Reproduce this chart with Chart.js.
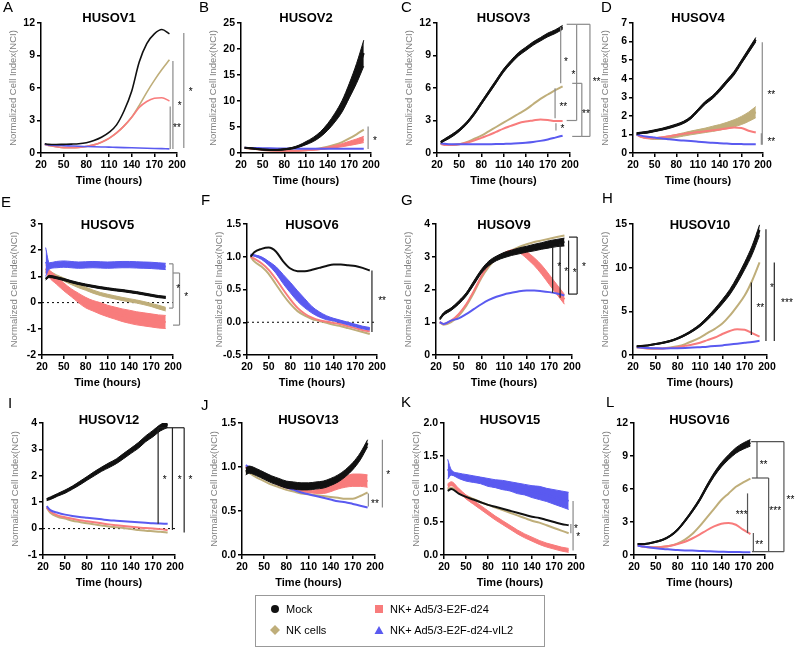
<!DOCTYPE html>
<html>
<head>
<meta charset="utf-8">
<script src="https://cdn.jsdelivr.net/npm/chart.js@4.4.1/dist/chart.umd.min.js"></script>
<style>
  body { margin: 0; background: #fff; font-family: Arial, "Liberation Sans", sans-serif; }
  #page { position: relative; width: 800px; height: 651px; overflow: hidden; }
  canvas { position: absolute; }
  .letter { position: absolute; font-size: 15px; line-height: 18px; color: #000; }
  #legend { position: absolute; left: 255px; top: 595px; width: 290px; height: 52px; border: 1px solid #999; box-sizing: border-box; font-size: 11px; }
  .item { position: absolute; display: flex; align-items: center; white-space: nowrap; }
  .item svg { margin-right: 6px; }
</style>
</head>
<body>
<div id="page"></div>
<script>
// time axis shared by all panels (hours)
const hours = [25, 30, 40, 50, 60, 70, 80, 90, 100, 110, 120, 130, 140, 150, 160, 170, 180, 190];

// HUSOV1
const husov1Mock = [0.85, 0.8, 0.78, 0.8, 0.82, 0.85, 0.95, 1.15, 1.45, 1.9, 2.6, 3.9, 5.7, 8.4, 10.1, 11.0, 11.4, 11.0];
const husov1Nk   = [0.8, 0.7, 0.58, 0.5, 0.5, 0.52, 0.6, 0.75, 1.0, 1.35, 1.85, 2.5, 3.3, 4.4, 5.6, 6.7, 7.7, 8.6];
const husov1Ad   = [0.8, 0.7, 0.58, 0.5, 0.5, 0.52, 0.6, 0.75, 1.0, 1.35, 1.85, 2.5, 3.3, 4.2, 4.75, 5.05, 5.1, 4.8];
const husov1Vil2 = [0.8, 0.75, 0.7, 0.68, 0.65, 0.62, 0.6, 0.58, 0.56, 0.54, 0.52, 0.5, 0.48, 0.46, 0.44, 0.42, 0.4, 0.38];

// HUSOV2
const husov2Mock   = [1.0, 0.95, 0.8, 0.65, 0.6, 0.6, 0.7, 0.9, 1.3, 1.9, 2.6, 3.6, 5.0, 6.8, 9.0, 12.0, 15.3, 19.2];
const husov2MockSd = [0.1, 0.1, 0.1, 0.1, 0.1, 0.1, 0.1, 0.15, 0.2, 0.3, 0.4, 0.5, 0.65, 0.85, 1.1, 1.4, 1.9, 2.5];
const husov2Nk     = [1.0, 0.9, 0.75, 0.6, 0.5, 0.45, 0.42, 0.42, 0.45, 0.55, 0.7, 0.9, 1.2, 1.6, 2.1, 2.8, 3.6, 4.5];
const husov2Ad     = [1.0, 0.9, 0.75, 0.6, 0.5, 0.45, 0.42, 0.42, 0.45, 0.52, 0.62, 0.78, 0.98, 1.22, 1.5, 1.85, 2.2, 2.6];
const husov2AdSd   = [0, 0, 0, 0, 0, 0, 0, 0, 0.02, 0.05, 0.08, 0.12, 0.17, 0.22, 0.3, 0.4, 0.5, 0.6];
const husov2Vil2   = [1.0, 0.98, 0.95, 0.92, 0.9, 0.88, 0.86, 0.85, 0.84, 0.83, 0.82, 0.81, 0.8, 0.8, 0.8, 0.8, 0.8, 0.8];

// HUSOV3
const husov3Mock   = [1.0, 1.2, 1.6, 2.1, 2.75, 3.6, 4.6, 5.6, 6.6, 7.6, 8.4, 9.1, 9.6, 10.1, 10.5, 10.9, 11.2, 11.6];
const husov3MockSd = [0.08, 0.1, 0.12, 0.12, 0.12, 0.14, 0.14, 0.15, 0.15, 0.15, 0.15, 0.16, 0.16, 0.16, 0.16, 0.17, 0.17, 0.18];
const husov3Nk     = [0.9, 0.8, 0.75, 0.8, 1.0, 1.3, 1.6, 2.0, 2.4, 2.8, 3.2, 3.6, 4.0, 4.5, 5.0, 5.4, 5.8, 6.15];
const husov3Ad     = [0.85, 0.75, 0.75, 0.8, 0.95, 1.15, 1.4, 1.65, 1.95, 2.25, 2.5, 2.75, 2.9, 3.0, 3.1, 3.05, 2.95, 2.95];
const husov3Vil2   = [0.9, 0.85, 0.8, 0.8, 0.8, 0.8, 0.8, 0.81, 0.82, 0.84, 0.86, 0.9, 0.95, 1.02, 1.12, 1.25, 1.42, 1.6];

// HUSOV4
const husov4Mock   = [1.05, 1.08, 1.12, 1.2, 1.28, 1.38, 1.5, 1.65, 1.9, 2.3, 2.7, 3.0, 3.4, 3.85, 4.3, 4.9, 5.5, 6.1];
const husov4MockSd = [0.04, 0.04, 0.05, 0.05, 0.05, 0.06, 0.06, 0.06, 0.07, 0.07, 0.08, 0.08, 0.09, 0.09, 0.1, 0.1, 0.11, 0.12];
const husov4Nk     = [1.0, 0.9, 0.82, 0.78, 0.8, 0.85, 0.92, 1.0, 1.08, 1.15, 1.22, 1.3, 1.38, 1.48, 1.6, 1.75, 1.95, 2.2];
const husov4NkSd   = [0.02, 0.03, 0.04, 0.05, 0.06, 0.07, 0.08, 0.09, 0.1, 0.11, 0.12, 0.14, 0.15, 0.17, 0.19, 0.22, 0.25, 0.3];
const husov4Ad     = [1.0, 0.88, 0.8, 0.8, 0.85, 0.9, 0.97, 1.03, 1.08, 1.13, 1.17, 1.22, 1.27, 1.32, 1.37, 1.35, 1.2, 1.1];
const husov4Vil2   = [1.0, 0.95, 0.88, 0.83, 0.78, 0.74, 0.7, 0.67, 0.64, 0.61, 0.58, 0.55, 0.53, 0.51, 0.49, 0.48, 0.47, 0.47];

// HUSOV5
const husov5Mock   = [0.9, 1.0, 0.95, 0.88, 0.8, 0.73, 0.67, 0.62, 0.57, 0.53, 0.49, 0.46, 0.42, 0.38, 0.33, 0.28, 0.23, 0.2];
const husov5MockSd = [0.04, 0.04, 0.04, 0.04, 0.04, 0.04, 0.04, 0.04, 0.04, 0.04, 0.04, 0.04, 0.04, 0.04, 0.04, 0.04, 0.04, 0.04];
const husov5Nk     = [1.2, 1.15, 1.0, 0.88, 0.75, 0.63, 0.53, 0.42, 0.33, 0.26, 0.2, 0.14, 0.09, 0.04, -0.02, -0.09, -0.17, -0.25];
const husov5NkSd   = [0.06, 0.06, 0.06, 0.06, 0.06, 0.06, 0.06, 0.06, 0.06, 0.06, 0.06, 0.06, 0.06, 0.06, 0.06, 0.06, 0.07, 0.07];
const husov5Ad     = [1.3, 1.1, 0.85, 0.6, 0.38, 0.18, 0.0, -0.12, -0.22, -0.32, -0.4, -0.48, -0.54, -0.6, -0.64, -0.68, -0.72, -0.74];
const husov5AdSd   = [0.15, 0.15, 0.15, 0.15, 0.15, 0.18, 0.2, 0.2, 0.22, 0.22, 0.23, 0.24, 0.25, 0.25, 0.25, 0.25, 0.25, 0.25];
const husov5Vil2   = [1.55, 1.4, 1.45, 1.47, 1.45, 1.43, 1.44, 1.45, 1.44, 1.43, 1.44, 1.45, 1.45, 1.44, 1.43, 1.42, 1.4, 1.38];
const husov5Vil2Sd = [0.55, 0.12, 0.12, 0.12, 0.12, 0.12, 0.12, 0.12, 0.12, 0.12, 0.12, 0.12, 0.12, 0.12, 0.12, 0.12, 0.12, 0.12];

// HUSOV6
const husov6Mock   = [1.0, 1.07, 1.12, 1.14, 1.08, 0.93, 0.82, 0.78, 0.78, 0.8, 0.83, 0.86, 0.88, 0.88, 0.87, 0.86, 0.83, 0.79];
const husov6Nk     = [1.0, 0.93, 0.85, 0.74, 0.58, 0.42, 0.28, 0.17, 0.1, 0.05, 0.02, -0.01, -0.04, -0.06, -0.09, -0.12, -0.15, -0.18];
const husov6Ad     = [1.0, 0.97, 0.9, 0.8, 0.66, 0.5, 0.35, 0.22, 0.13, 0.07, 0.03, 0.01, -0.01, -0.03, -0.06, -0.09, -0.12, -0.14];
const husov6Vil2   = [1.03, 1.02, 0.98, 0.9, 0.8, 0.66, 0.53, 0.4, 0.29, 0.19, 0.12, 0.07, 0.04, 0.01, -0.02, -0.05, -0.08, -0.1];
const husov6Vil2Sd = [0.01, 0.01, 0.02, 0.03, 0.05, 0.07, 0.08, 0.08, 0.07, 0.05, 0.04, 0.03, 0.02, 0.02, 0.02, 0.02, 0.02, 0.02];

// HUSOV9
const husov9Mock   = [1.1, 1.25, 1.4, 1.6, 1.85, 2.2, 2.55, 2.8, 2.95, 3.05, 3.12, 3.18, 3.23, 3.28, 3.33, 3.38, 3.42, 3.45];
const husov9MockSd = [0.03, 0.04, 0.04, 0.05, 0.05, 0.06, 0.06, 0.07, 0.07, 0.08, 0.08, 0.09, 0.09, 0.1, 0.1, 0.11, 0.11, 0.12];
const husov9Nk     = [1.0, 0.92, 1.0, 1.2, 1.5, 1.9, 2.35, 2.7, 2.95, 3.1, 3.2, 3.3, 3.38, 3.45, 3.5, 3.55, 3.6, 3.65];
const husov9Ad     = [1.0, 0.95, 1.05, 1.25, 1.55, 1.95, 2.4, 2.75, 2.95, 3.1, 3.18, 3.18, 3.05, 2.85, 2.6, 2.3, 2.0, 1.7];
const husov9AdSd   = [0, 0, 0, 0, 0, 0, 0, 0, 0.01, 0.02, 0.03, 0.06, 0.1, 0.12, 0.14, 0.15, 0.15, 0.15];
const husov9Vil2   = [1.0, 0.95, 1.05, 1.12, 1.25, 1.4, 1.55, 1.68, 1.78, 1.85, 1.9, 1.95, 1.97, 1.97, 1.95, 1.92, 1.88, 1.82];

// HUSOV10
const husov10Mock   = [1.0, 1.02, 1.1, 1.25, 1.4, 1.6, 1.9, 2.3, 2.8, 3.4, 4.2, 5.1, 6.1, 7.2, 8.6, 10.2, 12.0, 14.3];
const husov10MockSd = [0.05, 0.05, 0.05, 0.06, 0.07, 0.08, 0.09, 0.1, 0.12, 0.15, 0.18, 0.22, 0.26, 0.3, 0.36, 0.42, 0.5, 0.6];
const husov10Nk     = [0.9, 0.85, 0.75, 0.72, 0.75, 0.85, 1.0, 1.25, 1.6, 2.0, 2.5, 3.0, 3.6, 4.5, 5.6, 6.8, 8.5, 10.6];
const husov10Ad     = [0.9, 0.85, 0.75, 0.73, 0.74, 0.8, 0.9, 1.05, 1.2, 1.4, 1.7, 2.0, 2.4, 2.75, 2.95, 2.9, 2.5, 2.1];
const husov10Vil2   = [0.9, 0.87, 0.8, 0.77, 0.75, 0.76, 0.78, 0.81, 0.85, 0.9, 0.95, 1.02, 1.1, 1.2, 1.3, 1.4, 1.5, 1.62];

// HUSOV12
const husov12Mock   = [1.1, 1.15, 1.28, 1.4, 1.55, 1.72, 1.9, 2.08, 2.25, 2.4, 2.55, 2.75, 2.95, 3.15, 3.4, 3.6, 3.82, 3.95];
const husov12MockSd = [0.04, 0.05, 0.05, 0.06, 0.06, 0.07, 0.07, 0.08, 0.08, 0.09, 0.09, 0.1, 0.1, 0.11, 0.11, 0.12, 0.12, 0.12];
const husov12Nk     = [0.8, 0.6, 0.45, 0.38, 0.3, 0.25, 0.2, 0.16, 0.12, 0.08, 0.05, 0.02, -0.02, -0.05, -0.08, -0.1, -0.12, -0.15];
const husov12Ad     = [0.8, 0.65, 0.5, 0.43, 0.37, 0.32, 0.28, 0.24, 0.2, 0.16, 0.13, 0.1, 0.07, 0.04, 0.02, 0.0, -0.02, -0.05];
const husov12Vil2   = [0.85, 0.7, 0.6, 0.53, 0.48, 0.44, 0.41, 0.38, 0.35, 0.32, 0.3, 0.28, 0.26, 0.24, 0.22, 0.2, 0.19, 0.18];

// HUSOV13
const husov13Mock   = [0.95, 0.97, 0.94, 0.9, 0.86, 0.83, 0.8, 0.79, 0.78, 0.78, 0.79, 0.8, 0.83, 0.87, 0.93, 1.01, 1.12, 1.27];
const husov13MockSd = [0.04, 0.04, 0.04, 0.04, 0.04, 0.04, 0.04, 0.04, 0.04, 0.04, 0.04, 0.04, 0.04, 0.04, 0.04, 0.04, 0.04, 0.04];
const husov13Nk     = [0.95, 0.93, 0.88, 0.84, 0.8, 0.77, 0.74, 0.72, 0.7, 0.69, 0.68, 0.67, 0.66, 0.65, 0.64, 0.64, 0.67, 0.71];
const husov13Ad     = [1.0, 0.97, 0.93, 0.88, 0.84, 0.8, 0.77, 0.75, 0.73, 0.72, 0.72, 0.73, 0.76, 0.8, 0.83, 0.85, 0.85, 0.84];
const husov13AdSd   = [0.01, 0.01, 0.01, 0.01, 0.01, 0.01, 0.01, 0.01, 0.01, 0.01, 0.02, 0.03, 0.04, 0.05, 0.06, 0.07, 0.07, 0.07];
const husov13Vil2   = [1.02, 1.0, 0.95, 0.9, 0.85, 0.81, 0.77, 0.74, 0.71, 0.69, 0.67, 0.65, 0.63, 0.61, 0.6, 0.58, 0.56, 0.54];

// HUSOV15
const husov15Mock   = [0.97, 1.0, 0.93, 0.88, 0.84, 0.8, 0.76, 0.73, 0.7, 0.67, 0.64, 0.61, 0.58, 0.56, 0.53, 0.5, 0.47, 0.45];
const husov15Nk     = [1.0, 1.02, 0.96, 0.9, 0.85, 0.8, 0.76, 0.72, 0.68, 0.64, 0.6, 0.56, 0.52, 0.49, 0.45, 0.41, 0.37, 0.33];
const husov15Ad     = [1.05, 1.08, 0.98, 0.88, 0.8, 0.72, 0.64, 0.56, 0.49, 0.42, 0.35, 0.29, 0.24, 0.19, 0.15, 0.12, 0.09, 0.07];
const husov15AdSd   = [0.03, 0.03, 0.03, 0.03, 0.03, 0.03, 0.03, 0.03, 0.03, 0.03, 0.03, 0.03, 0.03, 0.03, 0.03, 0.03, 0.03, 0.03];
const husov15Vil2   = [1.3, 1.25, 1.2, 1.17, 1.15, 1.13, 1.1, 1.08, 1.06, 1.04, 1.01, 0.99, 0.96, 0.94, 0.91, 0.88, 0.85, 0.82];
const husov15Vil2Sd = [0.15, 0.04, 0.04, 0.05, 0.05, 0.05, 0.06, 0.06, 0.07, 0.07, 0.08, 0.08, 0.09, 0.1, 0.1, 0.11, 0.12, 0.13];

// HUSOV16 (recorded up to 180 h)
const husov16Mock   = [1.0, 1.0, 1.05, 1.2, 1.4, 1.75, 2.3, 3.1, 4.0, 5.0, 6.2, 7.3, 8.2, 8.9, 9.5, 9.9, 10.2];
const husov16MockSd = [0.03, 0.03, 0.04, 0.05, 0.06, 0.07, 0.08, 0.1, 0.12, 0.14, 0.16, 0.18, 0.2, 0.22, 0.25, 0.28, 0.3];
const husov16Nk     = [0.9, 0.8, 0.7, 0.7, 0.75, 0.85, 1.05, 1.4, 1.9, 2.6, 3.4, 4.2, 5.0, 5.6, 6.2, 6.6, 6.95];
const husov16Ad     = [0.9, 0.8, 0.7, 0.7, 0.75, 0.85, 1.0, 1.2, 1.5, 1.85, 2.25, 2.6, 2.85, 2.9, 2.75, 2.3, 1.9];
const husov16Vil2   = [0.85, 0.8, 0.7, 0.62, 0.55, 0.5, 0.45, 0.42, 0.4, 0.37, 0.35, 0.32, 0.3, 0.28, 0.27, 0.26, 0.25];

const colMock = '#111111';
const colNk = '#bfae7a';
const colAd = '#f87c7c';
const colVil2 = '#5a5af0';

// box = [plot left, plot top, plot right, plot bottom] in page pixels
const panels = [
  { letter: 'A', lx: 3, ly: -2, title: 'HUSOV1', box: [41, 23, 177, 153], y: [0, 12, 3, 0], titleDy: -5, thin: true,
    mock: [husov1Mock], nk: [husov1Nk], ad: [husov1Ad], vil2: [husov1Vil2],
    marks: [[191, 4.3, 191, 0.37], [194.6, 8.5, 194.6, 0.37], [209, 11.07, 209, 0.46]],
    stars: [[200, 2.5, '**'], [203.6, 4.5, '*'], [218, 5.75, '*']] },
  { letter: 'B', lx: 199, ly: -2, title: 'HUSOV2', box: [241, 23, 371, 153], y: [0, 25, 5, 0], titleDy: -5,
    mock: [husov2Mock, husov2MockSd], nk: [husov2Nk], ad: [husov2Ad, husov2AdSd], vil2: [husov2Vil2],
    marks: [[196, 5.1, 196, 0.76]],
    stars: [[205.5, 2.6, '*']] },
  { letter: 'C', lx: 401, ly: -2, title: 'HUSOV3', box: [437, 23, 570, 153], y: [0, 12, 3, 0], titleDy: -5,
    mock: [husov3Mock, husov3MockSd], nk: [husov3Nk], ad: [husov3Ad], vil2: [husov3Vil2],
    marks: [[187.4, 11.6, 187.4, 6.43], [179.8, 5.97, 179.8, 3.2], [181, 2.75, 181, 2.08],
            [195.5, 11.88, 209, 11.88], [209, 11.88, 209, 3.0], [209, 3.0, 195.5, 3.0],
            [203, 6.43, 216, 6.43], [216, 6.43, 216, 1.53], [216, 1.53, 203, 1.53],
            [209, 11.88, 227, 11.88], [227, 11.88, 227, 1.53], [227, 1.53, 216, 1.53]],
    stars: [[194.6, 8.57, '*'], [191, 4.44, '**'], [189.7, 2.36, '*'], [204.5, 7.35, '*'], [221.5, 3.8, '**'], [236, 6.7, '**']] },
  { letter: 'D', lx: 601, ly: -2, title: 'HUSOV4', box: [633, 23, 763, 153], y: [0, 7, 1, 0], titleDy: -5,
    mock: [husov4Mock, husov4MockSd], nk: [husov4Nk, husov4NkSd], ad: [husov4Ad], vil2: [husov4Vil2],
    marks: [[199, 5.97, 199, 0.44], [197.7, 1.06, 197.7, 0.44]],
    stars: [[211.5, 3.2, '**'], [211.5, 0.7, '**']] },

  { letter: 'E', lx: 1, ly: 193, title: 'HUSOV5', box: [42, 224, 173, 355], y: [-2, 3, 1, 0], titleDy: 1, zero: true,
    mock: [husov5Mock, husov5MockSd], nk: [husov5Nk, husov5NkSd], ad: [husov5Ad, husov5AdSd], vil2: [husov5Vil2, husov5Vil2Sd],
    marks: [[194.6, 1.48, 200, 1.48], [200, 1.48, 200, -0.21], [200, -0.21, 194.6, -0.21],
            [200, 1.13, 209, 1.13], [209, 1.13, 209, -0.86], [209, -0.86, 200, -0.86]],
    stars: [[207, 0.59, '*'], [218, 0.28, '*']] },
  { letter: 'F', lx: 201, ly: 191, title: 'HUSOV6', box: [247, 224, 377, 355], y: [-0.5, 1.5, 0.5, 1], titleDy: 1, zero: true,
    mock: [husov6Mock], nk: [husov6Nk], ad: [husov6Ad], vil2: [husov6Vil2, husov6Vil2Sd],
    marks: [[193, 0.79, 193, -0.15]], markColor: '#222',
    stars: [[207, 0.35, '**']] },
  { letter: 'G', lx: 401, ly: 191, title: 'HUSOV9', box: [436, 224, 572, 355], y: [0, 4, 1, 0], titleDy: 1,
    mock: [husov9Mock, husov9MockSd], nk: [husov9Nk], ad: [husov9Ad, husov9AdSd], vil2: [husov9Vil2],
    marks: [[174.4, 3.3, 174.4, 1.9], [184.3, 3.4, 184.3, 1.75], [195.5, 3.5, 195.5, 1.85],
            [196, 3.6, 206.8, 3.6], [206.8, 3.6, 206.8, 1.86], [206.8, 1.86, 196, 1.86]],
    markColor: '#222',
    stars: [[182.9, 2.73, '*'], [192.3, 2.6, '*'], [203.6, 2.55, '*'], [215.8, 2.73, '*']] },
  { letter: 'H', lx: 602, ly: 189, title: 'HUSOV10', box: [633, 224, 767, 355], y: [0, 15, 5, 0], titleDy: 1,
    mock: [husov10Mock, husov10MockSd], nk: [husov10Nk], ad: [husov10Ad], vil2: [husov10Vil2],
    marks: [[179, 8.3, 179, 2.3], [198.6, 14.4, 198.6, 1.6], [209.8, 10.6, 209.8, 1.6]], markColor: '#222',
    stars: [[191, 5.6, '**'], [206.7, 7.9, '*'], [226.8, 6.15, '***']] },

  { letter: 'I', lx: 8, ly: 394, title: 'HUSOV12', box: [43, 423, 175, 555], y: [-1, 4, 1, 0], titleDy: -3, zero: true,
    mock: [husov12Mock, husov12MockSd], nk: [husov12Nk], ad: [husov12Ad], vil2: [husov12Vil2],
    marks: [[177, 3.82, 212.5, 3.82], [177, 3.82, 177, 0.18], [196.5, 3.82, 196.5, -0.05], [212.5, 3.82, 212.5, -0.15]], markColor: '#222',
    stars: [[186, 1.9, '*'], [206.5, 1.9, '*'], [221, 1.9, '*']] },
  { letter: 'J', lx: 201, ly: 396, title: 'HUSOV13', box: [242, 423, 375, 555], y: [0, 1.5, 0.5, 1], titleDy: -3,
    mock: [husov13Mock, husov13MockSd], nk: [husov13Nk], ad: [husov13Ad, husov13AdSd], vil2: [husov13Vil2],
    marks: [[210, 1.31, 210, 0.54], [191, 0.7, 191, 0.55]],
    stars: [[218, 0.93, '*'], [200, 0.6, '**']] },
  { letter: 'K', lx: 401, ly: 393, title: 'HUSOV15', box: [444, 423, 576, 555], y: [0, 2, 0.5, 1], titleDy: -3,
    mock: [husov15Mock], nk: [husov15Nk], ad: [husov15Ad, husov15AdSd], vil2: [husov15Vil2, husov15Vil2Sd],
    marks: [[193, 0.47, 193, 0.33], [196, 0.82, 196, 0.07]],
    stars: [[200, 0.42, '*'], [203, 0.3, '*']] },
  { letter: 'L', lx: 606, ly: 393, title: 'HUSOV16', box: [634, 423, 765, 555], y: [0, 12, 3, 0], titleDy: -3,
    mock: [husov16Mock, husov16MockSd], nk: [husov16Nk], ad: [husov16Ad], vil2: [husov16Vil2],
    marks: [[181, 10.3, 226, 10.3], [226, 10.3, 226, 0.3], [226, 0.3, 182, 0.3],
            [189, 10.3, 189, 7.0],
            [182, 7.0, 205, 7.0], [205, 7.0, 205, 0.3],
            [176, 5.6, 176, 2.0], [184, 2.0, 184, 0.3]],
    markColor: '#555',
    stars: [[198, 8.3, '**'], [168, 3.8, '***'], [214, 4.2, '***'], [192, 1.1, '**'], [235, 5.2, '**']] }
];

const FONT = 'Arial, "Liberation Sans", sans-serif';

const extras = {
  id: 'extras',
  beforeDatasetsDraw(chart) {
    const o = chart.options.plugins.extras;
    if (!o.zero) return;
    const { ctx, chartArea, scales } = chart;
    const yy = scales.y.getPixelForValue(0);
    ctx.save();
    ctx.setLineDash([2, 3]);
    ctx.strokeStyle = '#000';
    ctx.lineWidth = 1;
    ctx.beginPath();
    ctx.moveTo(chartArea.left, yy);
    ctx.lineTo(chartArea.right, yy);
    ctx.stroke();
    ctx.restore();
  },
  afterDraw(chart) {
    const o = chart.options.plugins.extras;
    const { ctx, chartArea, scales: { x, y } } = chart;
    ctx.save();
    ctx.fillStyle = '#000';
    ctx.font = 'bold 13px ' + FONT;
    ctx.textAlign = 'center';
    ctx.textBaseline = 'middle';
    ctx.fillText(o.title, (chartArea.left + chartArea.right) / 2, chartArea.top + o.titleDy);

    ctx.strokeStyle = o.markColor || '#8a8a8a';
    ctx.lineWidth = 1.2;
    o.marks.forEach(m => {
      ctx.beginPath();
      ctx.moveTo(x.getPixelForValue(m[0]), y.getPixelForValue(m[1]));
      ctx.lineTo(x.getPixelForValue(m[2]), y.getPixelForValue(m[3]));
      ctx.stroke();
    });
    ctx.font = '10px ' + FONT;
    o.stars.forEach(s => {
      ctx.fillText(s[2], x.getPixelForValue(s[0]), y.getPixelForValue(s[1]) + 2);
    });
    ctx.restore();
  }
};

function addSeries(list, spec, color, width) {
  const values = spec[0];
  const sd = spec[1];
  const pts = values.map((v, i) => ({ x: hours[i], y: v }));
  list.push({ data: pts, borderColor: color, borderWidth: width, pointRadius: 0,
              cubicInterpolationMode: 'monotone', fill: false });
  if (sd) {
    list.push({ data: values.map((v, i) => ({ x: hours[i], y: v + sd[i] })), borderColor: color,
                borderWidth: 1, pointRadius: 0, cubicInterpolationMode: 'monotone', fill: false });
    list.push({ data: values.map((v, i) => ({ x: hours[i], y: v - sd[i] })), borderColor: color,
                borderWidth: 1, pointRadius: 0, cubicInterpolationMode: 'monotone',
                fill: '-1', backgroundColor: color });
  }
}

const page = document.getElementById('page');
const Y_W = 40, X_H = 40, PAD_T = 24, PAD_R = 62;

panels.forEach(p => {
  const [pl, pt, pr, pb] = p.box;
  const left = pl - Y_W, top = pt - PAD_T;
  const canvas = document.createElement('canvas');
  canvas.width = pr + PAD_R - left;
  canvas.height = pb + X_H - top;
  canvas.style.left = left + 'px';
  canvas.style.top = top + 'px';
  page.appendChild(canvas);

  const letter = document.createElement('div');
  letter.className = 'letter';
  letter.textContent = p.letter;
  letter.style.left = p.lx + 'px';
  letter.style.top = p.ly + 'px';
  page.appendChild(letter);

  const w = p.thin ? 1.6 : 2;
  const datasets = [];
  addSeries(datasets, p.mock, colMock, w);
  addSeries(datasets, p.vil2, colVil2, w);
  addSeries(datasets, p.ad, colAd, w);
  addSeries(datasets, p.nk, colNk, w);

  const [yMin, yMax, yStep, dec] = p.y;
  const axisGrid = { display: true, drawOnChartArea: false, drawTicks: true, tickLength: 4, color: '#000', lineWidth: 1.5 };

  new Chart(canvas, {
    type: 'line',
    data: { datasets },
    options: {
      responsive: false,
      animation: false,
      layout: { padding: { left: 0, top: PAD_T, right: PAD_R, bottom: 0 } },
      plugins: {
        legend: { display: false },
        tooltip: { enabled: false },
        extras: { title: p.title, titleDy: p.titleDy, zero: !!p.zero, marks: p.marks, stars: p.stars, markColor: p.markColor }
      },
      scales: {
        x: {
          type: 'linear', min: 20, max: 200,
          grid: axisGrid,
          border: { display: true, color: '#000', width: 1.5 },
          ticks: { stepSize: 30, autoSkip: false, maxRotation: 0, padding: 2, color: '#000', font: { family: FONT, size: 10.5, weight: 'bold' } },
          title: { display: true, text: 'Time (hours)', color: '#000', padding: { top: 0, bottom: 5 }, font: { family: FONT, size: 11, weight: 'bold' } },
          afterFit(scale) { scale.height = X_H; }
        },
        y: {
          min: yMin, max: yMax,
          grid: axisGrid,
          border: { display: true, color: '#000', width: 1.5 },
          ticks: { stepSize: yStep, autoSkip: false, padding: 2, color: '#000', font: { family: FONT, size: 10.5, weight: 'bold' },
                   callback: v => v.toFixed(dec) },
          title: { display: true, text: 'Normalized Cell Index(NCI)', color: '#808080', padding: { top: 7, bottom: 0 }, font: { family: FONT, size: 9.5 } },
          afterFit(scale) { scale.width = Y_W; }
        }
      }
    },
    plugins: [extras]
  });
});

// legend box
const legendItems = [
  { label: 'Mock', color: colMock, shape: 'circle', x: 14, y: 7 },
  { label: 'NK cells', color: colNk, shape: 'diamond', x: 14, y: 28 },
  { label: 'NK+ Ad5/3-E2F-d24', color: colAd, shape: 'square', x: 118, y: 7 },
  { label: 'NK+ Ad5/3-E2F-d24-vIL2', color: colVil2, shape: 'triangle', x: 118, y: 28 }
];
const legend = document.createElement('div');
legend.id = 'legend';
page.appendChild(legend);
legendItems.forEach(it => {
  const d = document.createElement('div');
  d.className = 'item';
  d.style.left = it.x + 'px';
  d.style.top = it.y + 'px';
  let shape = '';
  if (it.shape === 'circle') shape = '<circle cx="5" cy="5" r="4" fill="' + it.color + '"/>';
  if (it.shape === 'diamond') shape = '<polygon points="5,0 10,5 5,10 0,5" fill="' + it.color + '"/>';
  if (it.shape === 'square') shape = '<rect x="1" y="1" width="8" height="8" fill="' + it.color + '"/>';
  if (it.shape === 'triangle') shape = '<polygon points="5,1 9.5,9 0.5,9" fill="' + it.color + '"/>';
  d.innerHTML = '<svg width="10" height="10">' + shape + '</svg><span>' + it.label + '</span>';
  legend.appendChild(d);
});
</script>
</body>
</html>
